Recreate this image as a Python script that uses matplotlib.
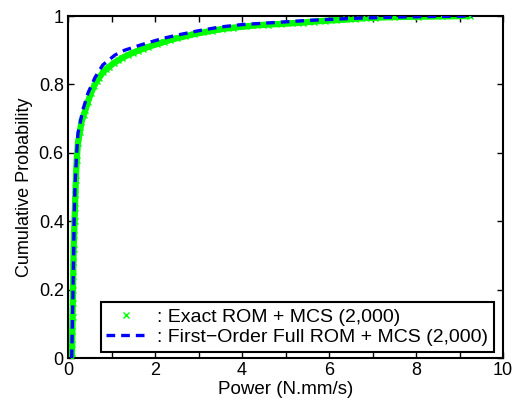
import numpy as np
import matplotlib
matplotlib.use("Agg")
import matplotlib.pyplot as plt

plt.rcParams['font.family'] = ['Liberation Sans', 'DejaVu Sans']

# exact ROM + MCS samples (sorted power, cumulative probability)
exact_power = [0.09, 0.095, 0.10, 0.105, 0.11, 0.115, 0.12, 0.125, 0.13, 0.14,
               0.15, 0.16, 0.17, 0.18, 0.20, 0.23, 0.27, 0.31, 0.36, 0.40,
               0.46, 0.53, 0.60, 0.66, 0.72, 0.80, 0.88, 0.95, 1.05, 1.15,
               1.25, 1.38, 1.50, 1.60, 1.72, 1.85, 2.05, 2.20, 2.35, 2.50,
               2.70, 2.90, 3.10, 3.30, 3.55, 3.80, 4.10, 4.35, 4.60, 4.90,
               5.15, 5.40, 5.65, 5.90, 6.15, 6.40, 6.60, 6.85, 7.05, 7.50,
               8.05, 8.60, 9.25]
exact_prob = [0.0, 0.04, 0.08, 0.12, 0.16, 0.20, 0.24, 0.28, 0.32, 0.36,
              0.40, 0.44, 0.48, 0.52, 0.58, 0.63, 0.66, 0.69, 0.71, 0.725,
              0.75, 0.775, 0.795, 0.81, 0.82, 0.835, 0.845, 0.852, 0.862, 0.87,
              0.878, 0.886, 0.893, 0.898, 0.904, 0.91, 0.918, 0.924, 0.93, 0.935,
              0.941, 0.947, 0.952, 0.957, 0.962, 0.966, 0.97, 0.973, 0.975, 0.977,
              0.979, 0.981, 0.984, 0.986, 0.988, 0.99, 0.992, 0.994, 0.995, 0.997,
              0.998, 0.999, 1.0]

# first-order full ROM + MCS curve
first_power = [0.085, 0.10, 0.115, 0.13, 0.14, 0.16, 0.20, 0.23, 0.34, 0.46,
               0.62, 0.80, 1.08, 1.30, 1.66, 2.0, 2.23, 2.5, 3.0, 3.5,
               4.0, 4.5, 5.0, 5.5, 6.0, 6.5, 7.0, 7.5, 8.0, 8.5, 9.3]
first_prob = [0.0, 0.1, 0.2, 0.3, 0.4, 0.5, 0.6, 0.658, 0.725, 0.775,
              0.82, 0.857, 0.886, 0.90, 0.915, 0.928, 0.936, 0.944, 0.957, 0.968,
              0.975, 0.979, 0.983, 0.987, 0.99, 0.993, 0.995, 0.997, 0.998, 0.999, 1.0]

labels = [': Exact ROM + MCS (2,000)',
          ': First\u2212Order Full ROM + MCS (2,000)']

fig = plt.figure(figsize=(5.14, 4.05), dpi=100)
ax = fig.add_axes([0.1323, 0.116, 0.8463, 0.8444])

ax.plot(exact_power, exact_prob, '-', color=(0, 1, 0), lw=4.5,
        solid_capstyle='butt', zorder=2)
ax.plot(exact_power, exact_prob, 'x', color=(0, 1, 0), ms=4, mew=1,
        zorder=3, label=labels[0])
ax.plot(first_power, first_prob, '--', color=(0, 0, 1), lw=2.4,
        dashes=(2.6, 1.8), zorder=4, label=labels[1])

ax.set_xlim(0, 10)
ax.set_ylim(0, 1)
ax.set_xticks(np.arange(0, 11, 1))
ax.set_xticklabels([str(v) if v % 2 == 0 else '' for v in range(11)])
ax.set_yticks([0, 0.2, 0.4, 0.6, 0.8, 1])
ax.set_yticklabels(['0', '0.2', '0.4', '0.6', '0.8', '1'])
ax.tick_params(direction='in', length=4, width=1, labelsize=13,
               top=True, right=True, pad=3)
for s in ax.spines.values():
    s.set_linewidth(1.5)

ax.set_xlabel('Power (N.mm/s)', fontsize=13.5, labelpad=1)
ax.set_ylabel('Cumulative Probability', fontsize=13, labelpad=4)

leg = ax.legend(loc='lower right', bbox_to_anchor=(0.979, 0.0175),
                fontsize=14, fancybox=False, framealpha=1, edgecolor='black',
                handlelength=2.0, handletextpad=0.6, borderpad=0.3,
                borderaxespad=0, labelspacing=0.15)
leg.get_frame().set_linewidth(1.5)

fig.savefig('out.png', dpi=100)
